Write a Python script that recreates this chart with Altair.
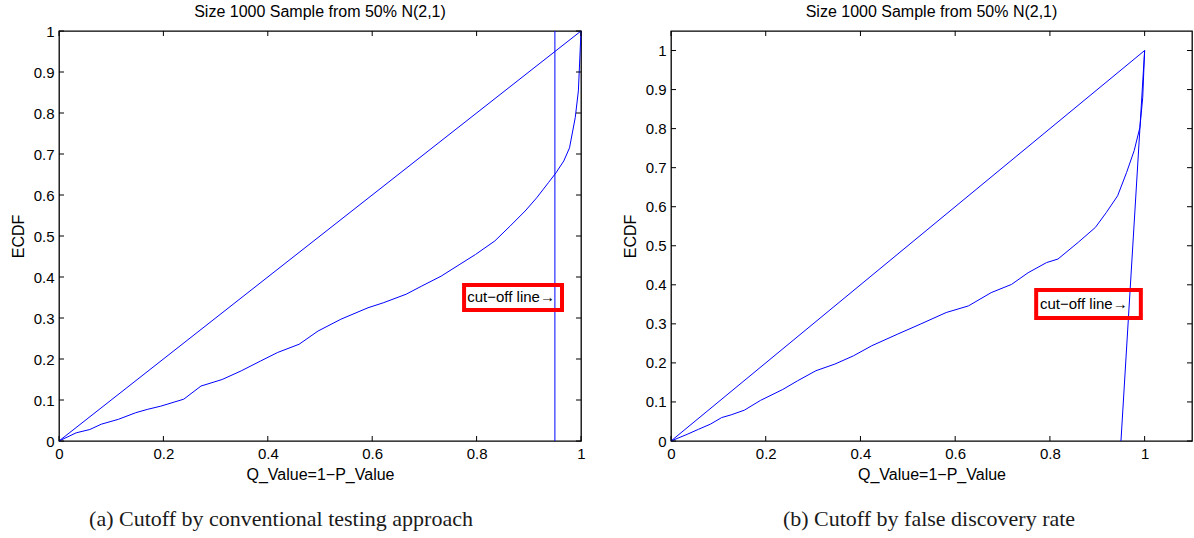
import altair as alt
import pandas as pd

# ---------------- data ----------------
title_text = "Size 1000 Sample from 50% N(2,1)"
x_title = "Q_Value=1\u2212P_Value"
y_title = "ECDF"
cap_a = "(a) Cutoff by conventional testing approach"
cap_b = "(b) Cutoff by false discovery rate"
box_label = "cut\u2212off line\u2192"

ecdf_a_x = [0, 0.033, 0.059, 0.081, 0.114, 0.147, 0.169, 0.195, 0.239, 0.272, 0.3125, 0.349,
            0.386, 0.419, 0.46, 0.496, 0.540, 0.592, 0.621, 0.665, 0.695, 0.732, 0.768, 0.798,
            0.835, 0.864, 0.893, 0.915, 0.9375, 0.952, 0.967, 0.978, 0.989, 0.995, 1.0]
ecdf_a_y = [0, 0.020, 0.028, 0.041, 0.053, 0.069, 0.077, 0.085, 0.102, 0.134, 0.150, 0.171,
            0.195, 0.216, 0.236, 0.268, 0.297, 0.325, 0.337, 0.358, 0.378, 0.402, 0.431, 0.455,
            0.488, 0.524, 0.561, 0.593, 0.630, 0.654, 0.683, 0.715, 0.789, 0.854, 1.0]

ecdf_b_x = [0, 0.034, 0.058, 0.083, 0.107, 0.127, 0.155, 0.189, 0.236, 0.267, 0.306, 0.346,
            0.385, 0.424, 0.479, 0.526, 0.581, 0.628, 0.676, 0.719, 0.754, 0.793, 0.817, 0.860,
            0.896, 0.919, 0.943, 0.962, 0.978, 0.990, 0.996, 1.0]
ecdf_b_y = [0, 0.017, 0.030, 0.043, 0.060, 0.067, 0.079, 0.104, 0.132, 0.154, 0.180, 0.197,
            0.218, 0.244, 0.274, 0.299, 0.329, 0.346, 0.380, 0.401, 0.431, 0.457, 0.466, 0.509,
            0.547, 0.585, 0.628, 0.688, 0.744, 0.803, 0.88, 1.0]

diag_x = [0, 1]
diag_y = [0, 1]

cut_a_x = [0.95, 0.95]
cut_a_y = [0, 1]
cut_b_x = [0.95, 1.0]
cut_b_y = [0, 1]

box_a = dict(x=0.776, x2=0.9636, y=0.3195, y2=0.3805, tx=0.782, ty=0.351)
box_b = dict(x=0.771, x2=0.992, y=0.315, y2=0.387, tx=0.779, ty=0.351)

x_ticks = [0, 0.2, 0.4, 0.6, 0.8, 1]
y_ticks = [0, 0.1, 0.2, 0.3, 0.4, 0.5, 0.6, 0.7, 0.8, 0.9, 1]

# ---------------- layout ----------------
H = 410
FONT = "Liberation Sans"
BLUE = "#0000ff"
TL = 5  # inward tick length


def panel(W, xdom, ydom, ex, ey, cx, cy, box, caption, cap_x):
    xs = alt.Scale(domain=xdom, nice=False, zero=False)
    ys = alt.Scale(domain=ydom, nice=False, zero=False)
    xax = alt.Axis(values=x_ticks, format="~g", ticks=False, domain=False, grid=False,
                   labelFont=FONT, labelFontSize=15, labelPadding=5, labelColor="black",
                   title=x_title, titleFont=FONT, titleFontSize=16, titleFontWeight="normal",
                   titlePadding=5, titleColor="black", labelFlush=False)
    yax = alt.Axis(values=y_ticks, format="~g", ticks=False, domain=False, grid=False,
                   labelFont=FONT, labelFontSize=15, labelPadding=5, labelColor="black",
                   title=y_title, titleFont=FONT, titleFontSize=16, titleFontWeight="normal",
                   titlePadding=7, titleColor="black", labelFlush=False)
    X = lambda f="x:Q": alt.X(f, scale=xs, axis=xax)
    Y = lambda f="y:Q": alt.Y(f, scale=ys, axis=yax)

    def line(xv, yv):
        df = pd.DataFrame({"x": xv, "y": yv, "o": list(range(len(xv)))})
        return alt.Chart(df).mark_line(color=BLUE, strokeWidth=1).encode(
            x=X(), y=Y(), order="o:Q")

    main = line(ex, ey)
    diag = line(diag_x, diag_y)
    cut = line(cx, cy)

    bdf = pd.DataFrame([box])
    rect = alt.Chart(bdf).mark_rect(fill=None, fillOpacity=0, stroke="#ff0000", strokeWidth=4).encode(
        x=X(), x2="x2:Q", y=Y(), y2="y2:Q")
    tdf = pd.DataFrame({"x": [box["tx"]], "y": [box["ty"]], "t": [box_label]})
    txt = alt.Chart(tdf).mark_text(align="left", baseline="middle", font=FONT, fontSize=15,
                                   color="black").encode(x=X(), y=Y(), text="t:N")

    xt = pd.DataFrame({"x": x_ticks})
    yt = pd.DataFrame({"y": y_ticks})
    rule = dict(color="black", strokeWidth=1)
    t_bottom = alt.Chart(xt).mark_rule(**rule).encode(x=X(), y=alt.value(H), y2=alt.value(H - TL))
    t_top = alt.Chart(xt).mark_rule(**rule).encode(x=X(), y=alt.value(0), y2=alt.value(TL))
    t_left = alt.Chart(yt).mark_rule(**rule).encode(y=Y(), x=alt.value(0), x2=alt.value(TL))
    t_right = alt.Chart(yt).mark_rule(**rule).encode(y=Y(), x=alt.value(W), x2=alt.value(W - TL))

    ttl = alt.Chart(pd.DataFrame({"t": [title_text]})).mark_text(
        align="center", baseline="alphabetic", font=FONT, fontSize=16, color="black").encode(
        x=alt.value(W / 2), y=alt.value(-14), text="t:N")

    cdf = pd.DataFrame({"t": [caption]})
    cap = alt.Chart(cdf).mark_text(align="center", baseline="middle", font="Liberation Serif",
                                   fontSize=22, color="#1a1a1a").encode(
        x=alt.value(cap_x), y=alt.value(H + 78), text="t:N")

    return alt.layer(main, diag, cut, rect, txt, t_bottom, t_top, t_left, t_right, ttl, cap).properties(
        width=W, height=H)


left = panel(522, [0, 1], [0, 1], ecdf_a_x, ecdf_a_y, cut_a_x, cut_a_y, box_a, cap_a, 222)
right = panel(521, [0, 1.1], [0, 1.05], ecdf_b_x, ecdf_b_y, cut_b_x, cut_b_y, box_b, cap_b, 258)

chart = alt.hconcat(left, right, spacing=90, bounds="flush").properties(
    padding={"left": 9, "top": 3, "right": 0, "bottom": 0}
).configure(background="white").configure_view(stroke="black", strokeWidth=1.3)

chart.save("out.html", embed_options={"renderer": "svg", "actions": False})
